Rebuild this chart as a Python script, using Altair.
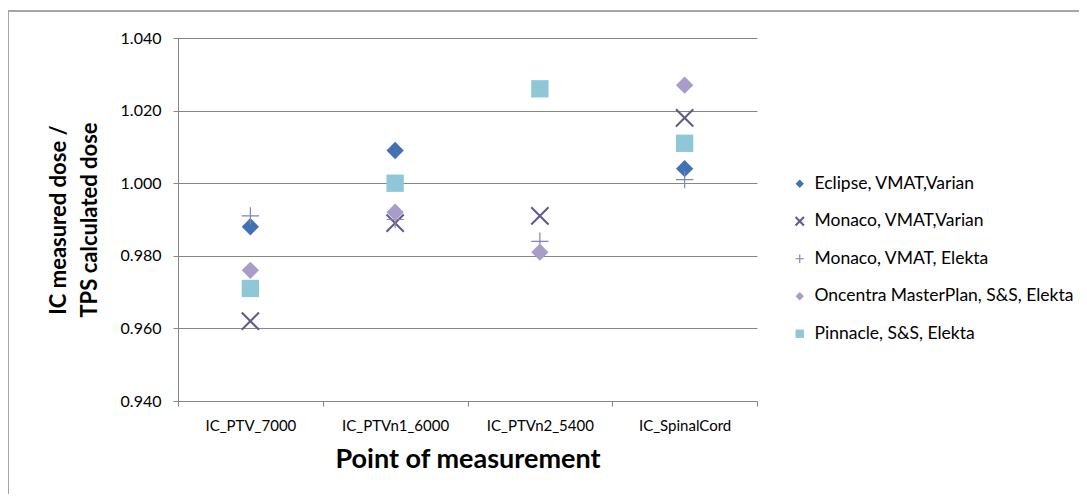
import altair as alt
import pandas as pd

points = ["IC_PTV_7000", "IC_PTVn1_6000", "IC_PTVn2_5400", "IC_SpinalCord"]
series = [
    "Eclipse, VMAT,Varian",
    "Monaco, VMAT,Varian",
    "Monaco, VMAT, Elekta",
    "Oncentra MasterPlan, S&S, Elekta",
    "Pinnacle, S&S, Elekta",
]
eclipse_vmat_varian = [0.988, 1.009, None, 1.004]
monaco_vmat_varian = [0.962, 0.989, 0.991, 1.018]
monaco_vmat_elekta = [0.991, 0.990, 0.984, 1.001]
oncentra_ss_elekta = [0.976, 0.992, 0.981, 1.027]
pinnacle_ss_elekta = [0.971, 1.000, 1.026, 1.011]

values = [eclipse_vmat_varian, monaco_vmat_varian, monaco_vmat_elekta,
          oncentra_ss_elekta, pinnacle_ss_elekta]
rows = []
for s, vals in zip(series, values):
    for p, v in zip(points, vals):
        if v is not None:
            rows.append({"point": p, "series": s, "ratio": v})
df = pd.DataFrame(rows)

fills = ["#4372b4", "transparent", "transparent", "#a99cc8", "#8fc6d8"]
strokes = ["#4372b4", "#5f5a8c", "#7f84ba", "#a99cc8", "#8fc6d8"]
shapes = ["diamond", "M-1,-1L1,1M-1,1L1,-1", "M-1,0L1,0M0,-1L0,1", "diamond", "square"]
widths = [0, 2.0, 1.2, 0, 0]

FONT = "Lato"

leg = alt.Legend(title=None, orient="none", legendX=613, legendY=137,
                 labelFont=FONT, labelFontSize=17.5, labelColor="#000000", labelLimit=400,
                 symbolSize=70, rowPadding=18.5, labelOffset=6, symbolStrokeWidth=1.3)

pts = alt.Chart(df).mark_point(size=300, opacity=1).encode(
    x=alt.X("point:N", sort=points, title="Point of measurement",
            scale=alt.Scale(paddingInner=0, paddingOuter=0),
            axis=alt.Axis(labelAngle=0, tickBand="extent", grid=False,
                          labelPadding=12, titlePadding=13, tickSize=5)),
    y=alt.Y("ratio:Q", title=["IC measured dose /", "TPS calculated dose"],
            scale=alt.Scale(domain=[0.94, 1.04], nice=False, zero=False),
            axis=alt.Axis(values=[0.94, 0.96, 0.98, 1.0, 1.02, 1.04], format=".3f",
                          tickSize=5, labelPadding=12, labelFontSize=16, titlePadding=19,
                          titleFontSize=22, titleLineHeight=31)),
    fill=alt.Fill("series:N", sort=series, scale=alt.Scale(domain=series, range=fills), legend=leg),
    stroke=alt.Stroke("series:N", sort=series, scale=alt.Scale(domain=series, range=strokes), legend=leg),
    shape=alt.Shape("series:N", sort=series, scale=alt.Scale(domain=series, range=shapes), legend=leg),
    strokeWidth=alt.StrokeWidth("series:N", sort=series,
                                scale=alt.Scale(type="ordinal", domain=series, range=widths),
                                legend=None),
)

frame_top = alt.Chart(df).mark_rule(color="#a6a6a6", strokeWidth=1.5).encode(
    x=alt.value(-170), x2=alt.value(909), y=alt.value(-27))
frame_left = alt.Chart(df).mark_rule(color="#a6a6a6", strokeWidth=1.5).encode(
    x=alt.value(-170), y=alt.value(-27), y2=alt.value(456))

chart = alt.layer(frame_top, frame_left, pts).properties(
    width=579, height=363,
    padding={"left": 170, "top": 30, "right": 322, "bottom": 93},
    autosize=alt.AutoSizeParams(type="none"),
).configure(font=FONT).configure_view(stroke=None).configure_axis(
    labelFont=FONT, labelFontSize=15, labelColor="#000000",
    titleFont=FONT, titleFontSize=27, titleFontWeight="bold", titleColor="#000000",
    domainColor="#868686", tickColor="#868686", gridColor="#868686",
    gridWidth=1, domainWidth=1, tickWidth=1,
)

chart.save("out.html", embed_options={"renderer": "svg", "actions": False})
